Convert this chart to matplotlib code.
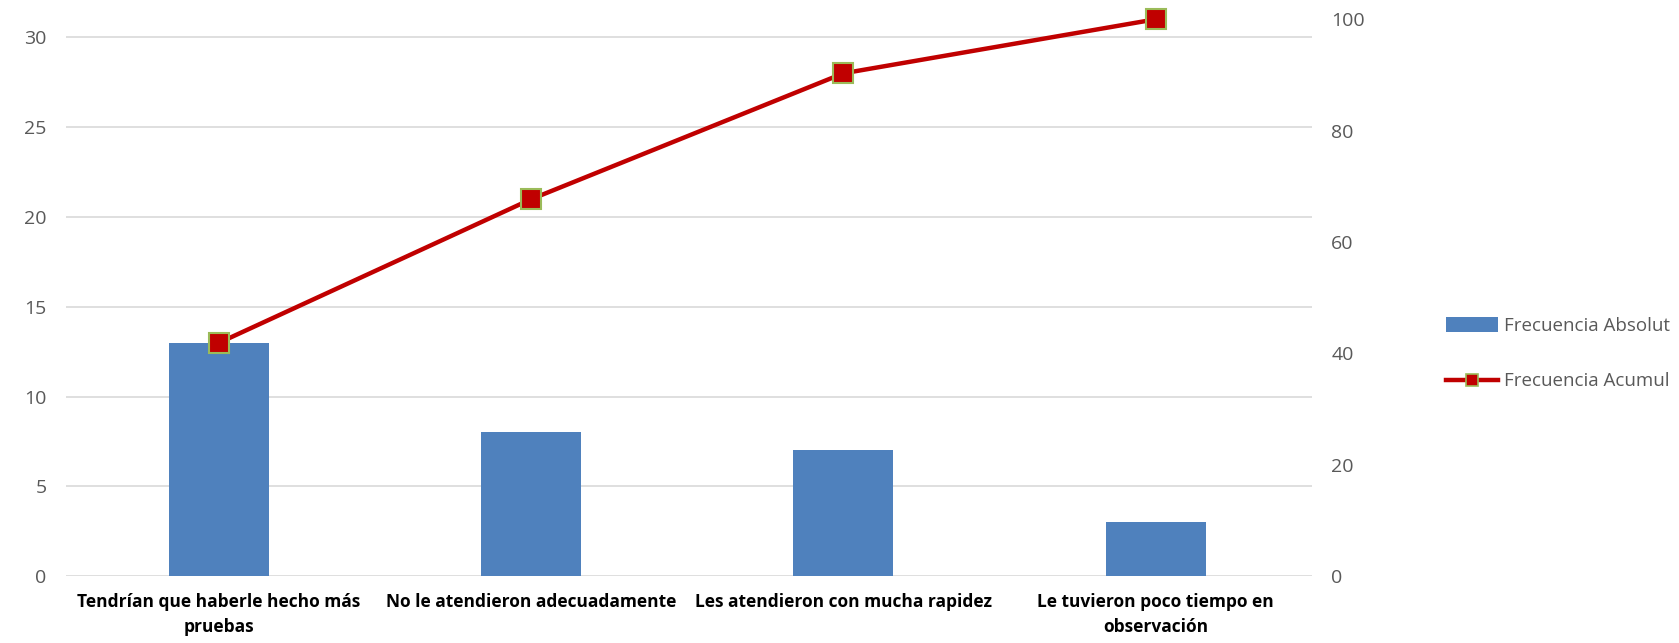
import matplotlib.pyplot as plt
from matplotlib.lines import Line2D
from matplotlib.patches import Patch

categories = ["Tendrían que haberle hecho más\npruebas",
              "No le atendieron adecuadamente",
              "Les atendieron con mucha rapidez",
              "Le tuvieron poco tiempo en\nobservación"]
absolute = [13, 8, 7, 3]
cumulative = [41.9, 67.7, 90.3, 100.0]
left_ticks = [0, 5, 10, 15, 20, 25, 30]
right_ticks = [0, 20, 40, 60, 80, 100]
legend_labels = ["Frecuencia Absolut", "Frecuencia Acumul"]

plt.rcParams['font.family'] = ['Open Sans', 'DejaVu Sans']

bar_color = '#4F81BD'
line_color = '#C00000'
grid_color = '#D9D9D9'
text_gray = '#595959'

fig = plt.figure(figsize=(16.79, 6.43), dpi=100)
ax = fig.add_axes([0.0393, 0.104, 0.7420, 0.866])
x = range(len(categories))

ax.bar(x, absolute, width=0.32, color=bar_color, zorder=2)
ax.set_xlim(-0.49, 3.5)
ax.set_ylim(0, 31)
ax.set_yticks(left_ticks)
ax.yaxis.grid(True, color=grid_color, linewidth=1.2, zorder=0)
ax.set_axisbelow(True)
ax.set_xticks(list(x))
ax.set_xticklabels(categories, fontsize=12.5, fontweight='bold', color='black',
                   linespacing=1.55)
ax.tick_params(axis='both', length=0)
ax.tick_params(axis='y', labelsize=14, labelcolor=text_gray, pad=14)
ax.tick_params(axis='x', pad=12)
for s in ax.spines.values():
    s.set_visible(False)

ax2 = ax.twinx()
ax2.plot(x, cumulative, color=line_color, linewidth=3.2, marker='s',
         markersize=14, markerfacecolor=line_color, markeredgecolor='#9BBB59',
         markeredgewidth=1.5, zorder=5, clip_on=False)
ax2.set_ylim(0, 100)
ax2.set_yticks(right_ticks)
ax2.tick_params(axis='y', length=0, labelsize=14, labelcolor=text_gray, pad=14)
for s in ax2.spines.values():
    s.set_visible(False)

handles = [Patch(facecolor=bar_color, edgecolor='none'),
           Line2D([0], [0], color=line_color, linewidth=3.2, marker='s',
                  markersize=9, markerfacecolor=line_color,
                  markeredgecolor='#9BBB59', markeredgewidth=1.2)]
leg = fig.legend(handles, legend_labels, loc='center left',
                 bbox_to_anchor=(0.857, 0.45), frameon=False, fontsize=13.5,
                 labelspacing=2.0, handlelength=2.75, handleheight=0.8,
                 handletextpad=0.3, borderaxespad=0)
for t in leg.get_texts():
    t.set_color(text_gray)

fig.savefig('out.png', dpi=100)
